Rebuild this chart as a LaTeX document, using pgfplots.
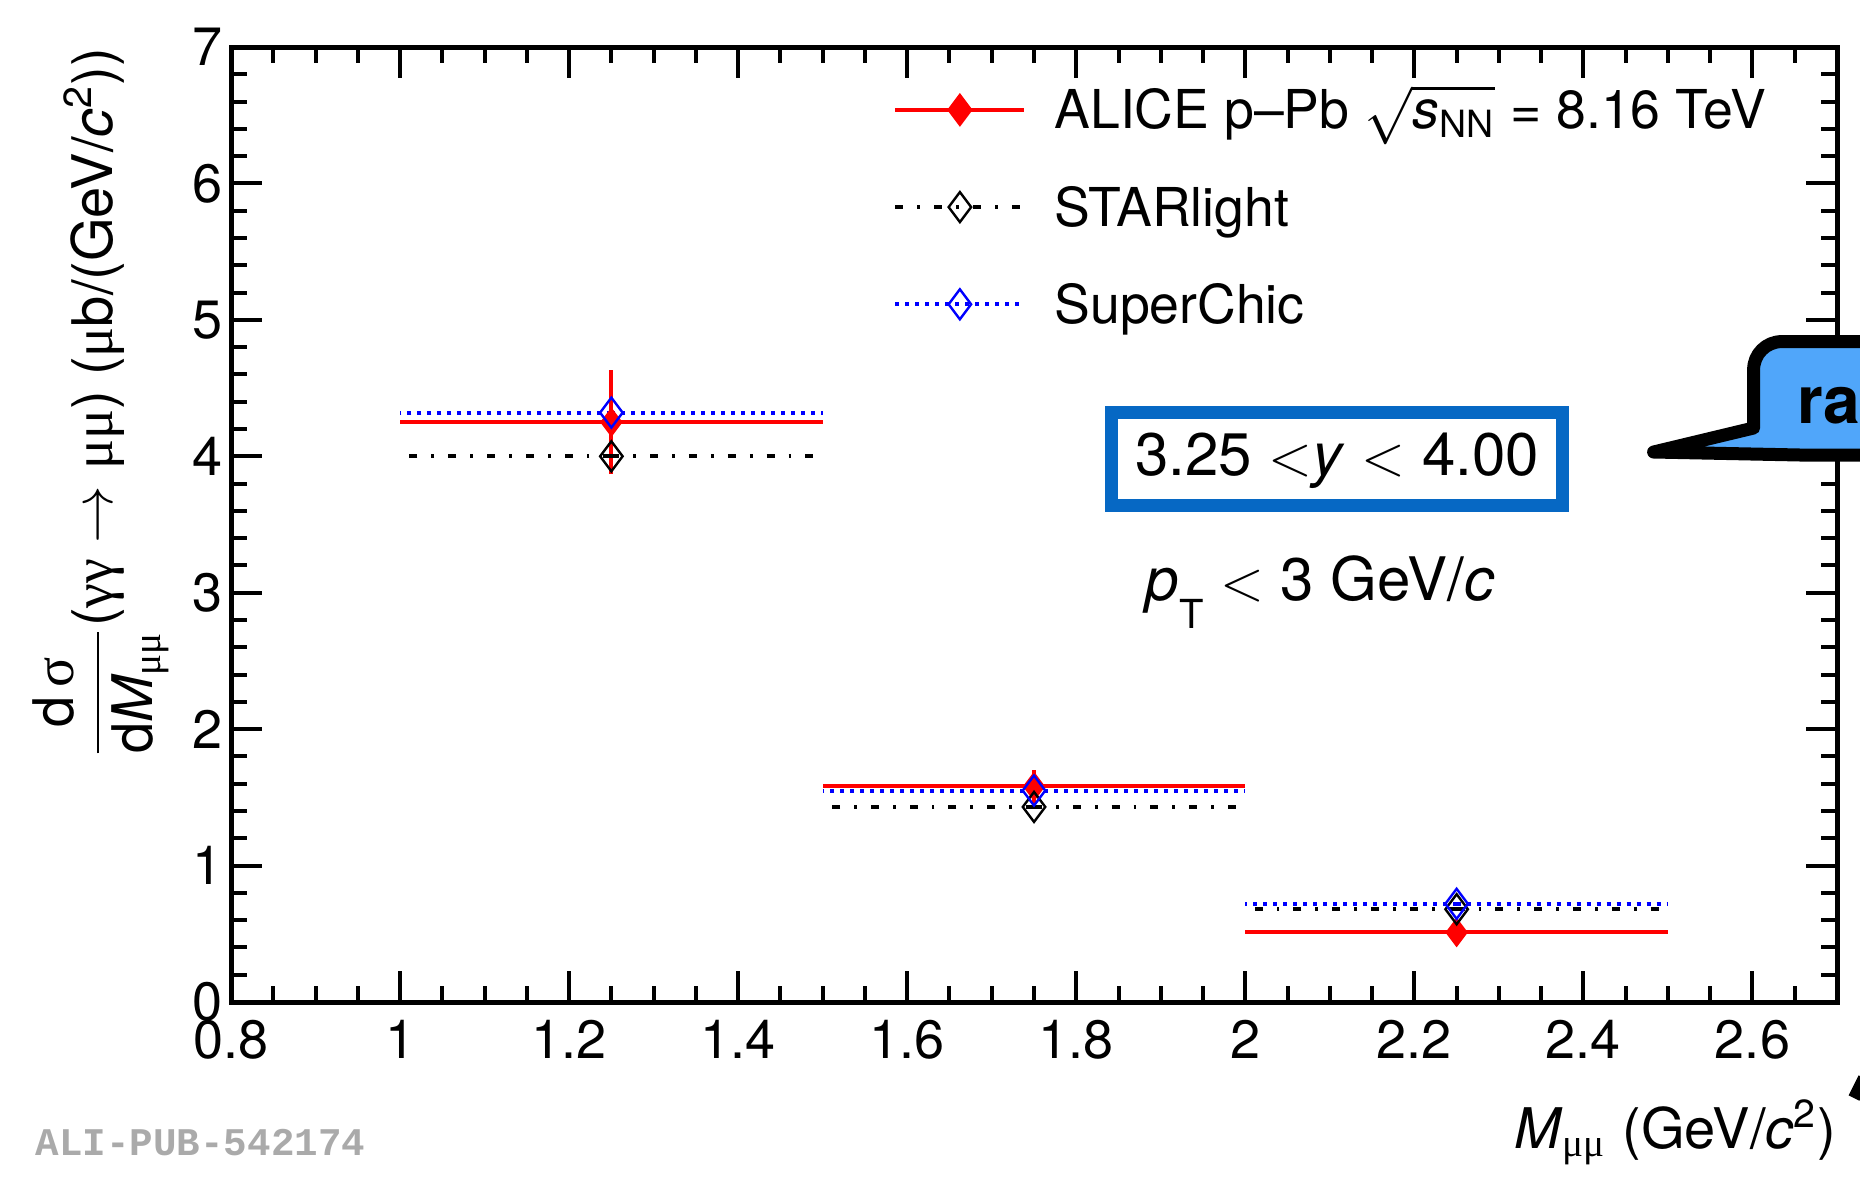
\documentclass[border=0pt]{standalone}
\usepackage{amsmath}
\usepackage{fontspec}
\setmainfont{TeX Gyre Heros}
\newfontfamily\grk{Liberation Serif}
\newfontfamily\monob{Liberation Mono}
\usepackage{pgfplots}
\usepackage{pgfplotstable}
\pgfplotsset{compat=1.18}

\definecolor{boxblue}{RGB}{6,104,196}
\definecolor{callblue}{RGB}{80,166,250}
\definecolor{wmgray}{RGB}{170,170,170}
\newcommand{\g}[1]{{\grk #1}}

\pgfplotstableread{
x y ex ey
1.25 4.25 0.25 0.38
1.75 1.58 0.25 0.12
2.25 0.51 0.25 0.05
}\alice
\pgfplotstableread{
x y ex
1.25 4.00 0.25
1.75 1.43 0.25
2.25 0.68 0.25
}\starl
\pgfplotstableread{
x y ex
1.25 4.32 0.25
1.75 1.55 0.25
2.25 0.72 0.25
}\superc

\begin{document}
\begin{tikzpicture}
\path[use as bounding box, clip] (0,0) rectangle (465pt,295.5pt);
\begin{axis}[
  at={(57.75pt,45pt)}, anchor=south west, scale only axis,
  width=401.5pt, height=238.75pt,
  xmin=0.8, xmax=2.7, ymin=0, ymax=7,
  xtick={0.8,1,1.2,1.4,1.6,1.8,2,2.2,2.4,2.6},
  ytick={0,1,2,3,4,5,6,7},
  minor xtick={0.85,0.9,0.95,1.05,1.1,1.15,1.25,1.3,1.35,1.45,1.5,1.55,1.65,1.7,1.75,1.85,1.9,1.95,2.05,2.1,2.15,2.25,2.3,2.35,2.45,2.5,2.55,2.65},
  minor ytick={0.2,0.4,0.6,0.8,1.2,1.4,1.6,1.8,2.2,2.4,2.6,2.8,3.2,3.4,3.6,3.8,4.2,4.4,4.6,4.8,5.2,5.4,5.6,5.8,6.2,6.4,6.6,6.8},
  tick align=inside, major tick length=7.75pt, minor tick length=4pt,
  axis line style={line width=1.25pt},
  every tick/.style={black, line width=1pt},
  /pgf/number format/assume math mode=true,
  ticklabel style={font=\fontsize{13.5}{16}\selectfont},
  xticklabel style={yshift=-1pt},
  yticklabel style={xshift=1.5pt},
  xlabel={\textit{M}\textsubscript{\g{μμ}} (GeV/\textit{c}\textsuperscript{2})},
  xlabel style={at={(rel axis cs:1,0)}, anchor=base east, yshift=-36.5pt, inner sep=0pt, font=\fontsize{14}{16}\selectfont},
  ylabel={$\dfrac{\text{d\,\grk σ}}{\text{d}\textit{M}_{\text{\grk μμ}}}$(\g{γγ} $\rightarrow$ \g{μμ}) (\g{μ}b/(GeV/\textit{c}\textsuperscript{2}))},
  ylabel style={at={(axis description cs:-0.038,1)}, anchor=south east, inner sep=0pt, font=\fontsize{14}{16}\selectfont},
  legend image code/.code={\draw[mark repeat=2,mark phase=2,#1] plot coordinates {(0pt,0pt)(16.1pt,0pt)(32.25pt,0pt)};},
  legend cell align=left,
  legend style={draw=none, fill=none, at={(axis description cs:0.412,0.957)}, anchor=north west,
    inner sep=0pt, row sep=13.8pt, font=\fontsize{13.4}{16}\selectfont,
    nodes={inner sep=0pt, text height=10pt, text depth=0.5pt},
    /tikz/every odd column/.append style={column sep=7pt}},
]
\addplot[red, only marks, mark=diamond*, mark size=3.4pt, forget plot,
  error bars/.cd, x dir=both, x explicit, y dir=both, y explicit, error mark=none,
  error bar style={line width=1pt, red, solid}]
  table[x=x, y=y, x error=ex, y error=ey]{\alice};
\addplot[black, only marks, mark=diamond, mark size=3.75pt, mark options={solid, line width=0.6pt}, forget plot,
  error bars/.cd, x dir=both, x explicit, error mark=none,
  error bar style={line width=1pt, black, dash pattern=on 2pt off 3.5pt on 0.7pt off 3.5pt}]
  table[x=x, y=y, x error=ex]{\starl};
\addplot[blue, only marks, mark=diamond, mark size=3.75pt, mark options={solid, line width=0.6pt}, forget plot,
  error bars/.cd, x dir=both, x explicit, error mark=none,
  error bar style={line width=1pt, blue, dash pattern=on 1pt off 1.5pt}]
  table[x=x, y=y, x error=ex]{\superc};
\addlegendimage{red, line width=1pt, mark=diamond*, mark size=3.4pt, mark options={solid}}
\addlegendentry{ALICE p–Pb $\sqrt{\textit{s}_{\text{NN}}}$ = 8.16 TeV}
\addlegendimage{black, line width=1pt, dash pattern=on 2pt off 3.5pt on 0.7pt off 3.5pt, mark=diamond, mark size=3.75pt, mark options={solid, line width=0.6pt}}
\addlegendentry{STARlight}
\addlegendimage{blue, line width=1pt, dash pattern=on 1pt off 1.5pt, mark=diamond, mark size=3.75pt, mark options={solid, line width=0.6pt}}
\addlegendentry{SuperChic}
\end{axis}
% rapidity box
\draw[boxblue, line width=3.25pt] (277.9pt,169.1pt) rectangle (390.6pt,192.4pt);
\node[anchor=base, inner sep=0pt, font=\fontsize{15}{18}\selectfont] at (334.25pt,176.75pt) {3.25 $<$\textit{y} $<$ 4.00};
\node[anchor=base west, inner sep=0pt, font=\fontsize{15}{18}\selectfont] at (286.25pt,145.5pt)
  {\textit{p}{\fontsize{10}{10}\selectfont\raisebox{-7pt}{T}} $<$ 3 GeV/\textit{c}};
% callout
\draw[line width=3.25pt, fill=callblue, line join=round]
  (480pt,210.1pt) [rounded corners=7pt] -- (438.4pt,210.1pt) -- (438.4pt,196pt) [sharp corners] -- (438.4pt,188.5pt)
  -- (413.4pt,182.5pt) -- (450pt,181.75pt) -- (480pt,181.75pt) -- cycle;
\node[anchor=base west, inner sep=0pt, font=\bfseries\fontsize{16.5}{18}\selectfont] at (449.25pt,189.75pt) {rapidity};
% watermark
\node[anchor=base west, inner sep=0pt, text=wmgray, font=\monob\bfseries\fontsize{9.8}{10}\selectfont] at (8.75pt,6.75pt) {ALI-PUB-542174};
\draw[line width=3pt] (463.5pt,21pt) -- (466pt,26pt);
\end{tikzpicture}
\end{document}
